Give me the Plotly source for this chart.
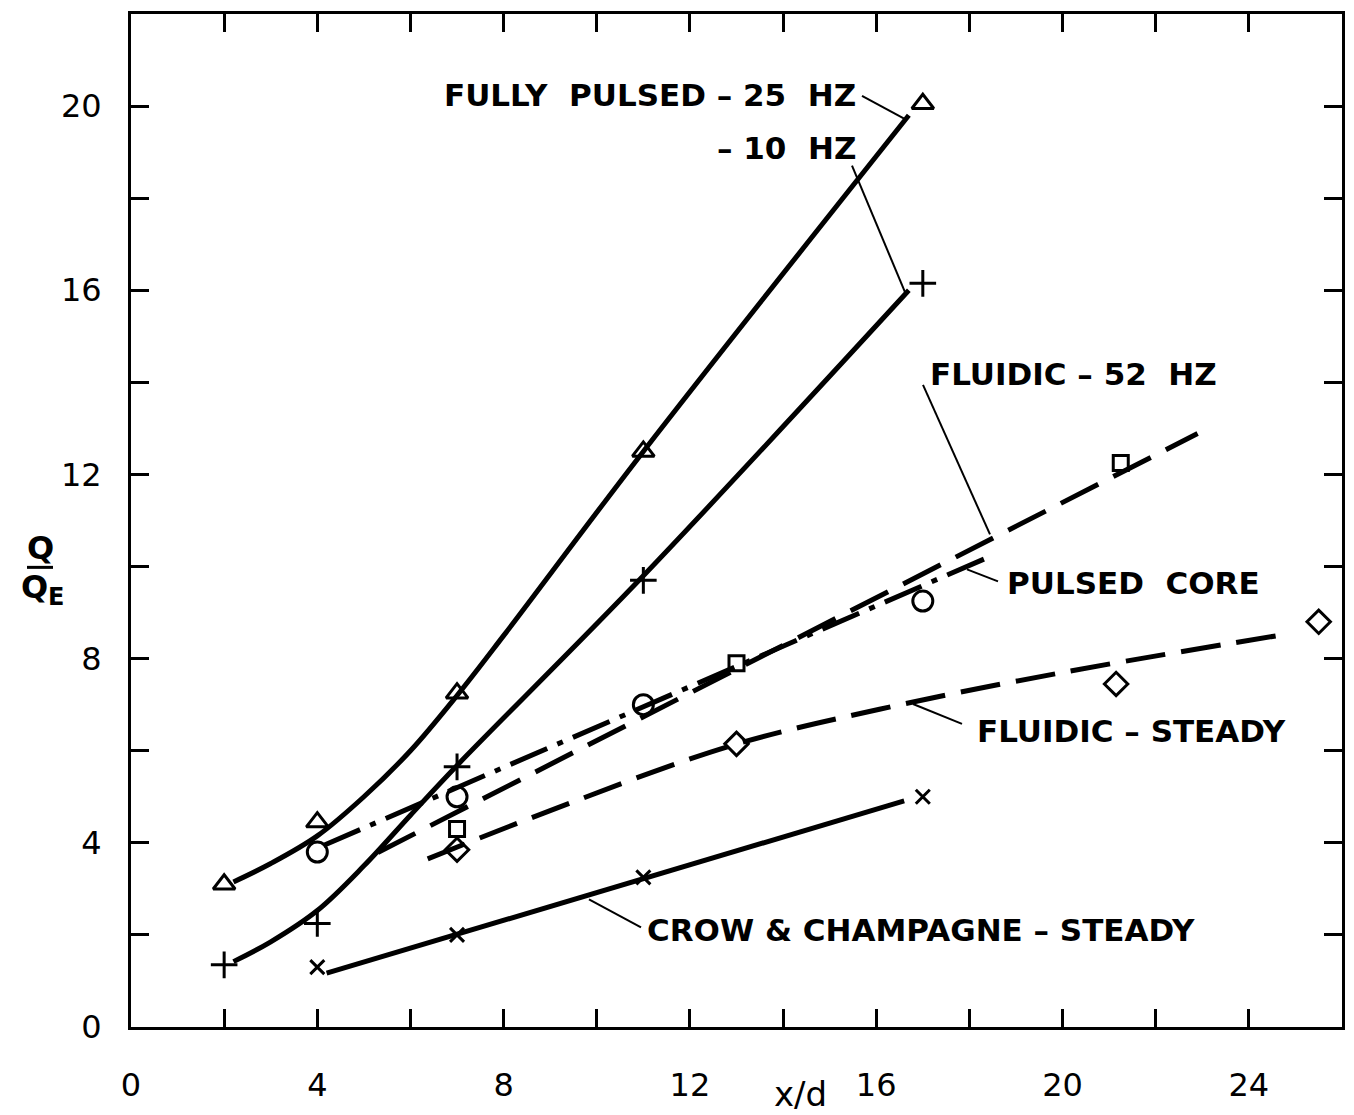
import plotly.graph_objects as go

# ---------------- data ----------------
# measured points
pulsed25_x = [2, 4, 7, 11, 17]
pulsed25_y = [3.1, 4.45, 7.25, 12.5, 20.05]
pulsed10_x = [2, 4, 7, 11, 17]
pulsed10_y = [1.35, 2.25, 5.65, 9.7, 16.15]
core_x = [4, 7, 11, 17]
core_y = [3.8, 5.0, 7.0, 9.25]
fl52_x = [7, 13, 21.25]
fl52_y = [4.3, 7.9, 12.25]
flst_x = [7, 13, 21.15, 25.5]
flst_y = [3.85, 6.15, 7.45, 8.8]
crow_x = [4, 7, 11, 17]
crow_y = [1.3, 2.0, 3.25, 5.0]

# faired curves
c25_x = [2.2, 3, 4, 5, 6, 7, 8, 11, 16.7]
c25_y = [3.15, 3.55, 4.15, 5.0, 6.0, 7.2, 8.5, 12.5, 19.8]
c10_x = [2.2, 3, 4, 5, 6, 7, 11, 16.7]
c10_y = [1.42, 1.85, 2.53, 3.5, 4.6, 5.68, 9.8, 16.0]
ccore_x = [4.13, 18.4]
ccore_y = [3.94, 10.2]
c52_x = [5.3, 22.9]
c52_y = [3.79, 12.89]
cst_x = [6.37, 9, 12.85, 16.07, 20, 24.92]
cst_y = [3.65, 4.7, 6.1, 6.9, 7.7, 8.55]
ccrow_x = [4.2, 16.6]
ccrow_y = [1.17, 4.91]

x_tick_vals = [0, 4, 8, 12, 16, 20, 24]
x_tick_text = ["0", "4", "8", "12", "16", "20", "24"]
y_tick_vals = [0, 4, 8, 12, 16, 20]
y_tick_text = ["0", "4", "8", "12", "16", "20"]

labels = ["FULLY  PULSED – 25  HZ", "– 10  HZ", "FLUIDIC – 52  HZ",
          "PULSED  CORE", "FLUIDIC – STEADY", "CROW & CHAMPAGNE – STEADY"]

# ---------------- layout geometry ----------------
OFF = 8                      # default page body margin
W, H = 1354 - OFF, 1115 - OFF
PL, PR, PT, PB = 131, 1342, 11, 1027   # plot box in page pixels
L, T = PL - OFF, PT - OFF
R = W - (PR - OFF)
B = H - (PB - OFF)
XMAX, YMAX = 26, 22
pw, ph = PR - PL, PB - PT


def px2x(px):
    return (px - PL) / (pw / XMAX)


def py2y(py):
    return (PB - py) / (ph / YMAX)


def px2p(px):
    return (px - PL) / pw


def py2p(py):
    return (PB - py) / ph


FONT = "DejaVu Sans"
fig = go.Figure()

LW = 5
curves = [
    (c25_x, c25_y, "solid", "spline"),
    (c10_x, c10_y, "solid", "spline"),
    (ccore_x, ccore_y, "40px,11px,6px,11px", "linear"),
    (c52_x, c52_y, "42px,17px", "linear"),
    (cst_x, cst_y, "40px,16px", "spline"),
    (ccrow_x, ccrow_y, "solid", "linear"),
]
for cx, cy, dash, shape in curves:
    fig.add_trace(go.Scatter(x=cx, y=cy, mode="lines",
                             line=dict(color="black", width=LW, dash=dash,
                                       shape=shape, smoothing=1.0),
                             showlegend=False, hoverinfo="skip"))

markers = [
    (pulsed25_x, pulsed25_y, "triangle-up-open", 19),
    (pulsed10_x, pulsed10_y, "cross-thin-open", 19),
    (core_x, core_y, "circle-open", 20),
    (fl52_x, fl52_y, "square-open", 15),
    (flst_x, flst_y, "diamond-open", 18),
    (crow_x, crow_y, "x-thin-open", 14),
]
for mx, my, sym, sz in markers:
    fig.add_trace(go.Scatter(x=mx, y=my, mode="markers",
                             marker=dict(symbol=sym, size=sz, color="black",
                                         line=dict(color="black", width=3)),
                             showlegend=False, cliponaxis=False))

# annotation texts (page-pixel anchored)
ann_specs = [
    (labels[0], 858, 92, "right"),
    (labels[1], 858, 145, "right"),
    (labels[2], 928, 372, "left"),
    (labels[3], 1005, 582, "left"),
    (labels[4], 975, 730, "left"),
    (labels[5], 645, 930, "left"),
]
annotations = []
for txt, px, py, anc in ann_specs:
    annotations.append(dict(x=px2x(px), y=py2y(py), xref="x", yref="y",
                            text="<b>" + txt + "</b>", showarrow=False,
                            xanchor=anc, yanchor="middle",
                            font=dict(family=FONT, size=31, color="black")))

# leader lines
leaders = [
    ((862, 93), (906, 117)),
    ((852, 163), (905, 290)),
    ((923, 383), (990, 533)),
    ((998, 580), (967, 568)),
    ((962, 723), (913, 703)),
    ((641, 927), (589, 899)),
]
shapes = []
for (ax_, ay_), (bx_, by_) in leaders:
    shapes.append(dict(type="line", xref="x", yref="y",
                       x0=px2x(ax_), y0=py2y(ay_), x1=px2x(bx_), y1=py2y(by_),
                       line=dict(color="black", width=2)))

# y-axis title Q / Q_E
annotations.append(dict(x=px2p(40), y=py2p(547), xref="paper", yref="paper",
                        text="<b>Q</b>", showarrow=False, xanchor="center",
                        yanchor="middle",
                        font=dict(family=FONT, size=32, color="black")))
annotations.append(dict(x=px2p(34), y=py2p(586), xref="paper", yref="paper",
                        text="<b>Q</b>", showarrow=False, xanchor="center",
                        yanchor="middle",
                        font=dict(family=FONT, size=32, color="black")))
annotations.append(dict(x=px2p(56), y=py2p(596), xref="paper", yref="paper",
                        text="<b>E</b>", showarrow=False, xanchor="center",
                        yanchor="middle",
                        font=dict(family=FONT, size=24, color="black")))
shapes.append(dict(type="line", xref="paper", yref="paper",
                   x0=px2p(27), x1=px2p(53), y0=py2p(566), y1=py2p(566),
                   line=dict(color="black", width=3)))
# x-axis title
annotations.append(dict(x=px2p(800), y=py2p(1094), xref="paper", yref="paper",
                        text="x/d", showarrow=False, xanchor="center",
                        yanchor="middle",
                        font=dict(family=FONT, size=34, color="black")))

axis_common = dict(showline=True, linecolor="black", linewidth=3,
                   mirror="ticks", ticks="inside", ticklen=18,
                   tickwidth=2.5, tickcolor="black", showgrid=False,
                   zeroline=False,
                   minor=dict(ticks="inside", ticklen=18, tickwidth=2.5,
                              tickcolor="black", dtick=2, showgrid=False),
                   tickfont=dict(family=FONT, size=32, color="black"))

fig.update_layout(
    width=W, height=H,
    margin=dict(l=L, r=R, t=T, b=B, pad=0),
    paper_bgcolor="white", plot_bgcolor="white",
    xaxis=dict(range=[0, XMAX], tickmode="array", tickvals=x_tick_vals,
               ticktext=x_tick_text, ticklabelstandoff=28, **axis_common),
    yaxis=dict(range=[0, YMAX], tickmode="array", tickvals=y_tick_vals,
               ticktext=y_tick_text, ticklabelstandoff=20, **axis_common),
    annotations=annotations,
    shapes=shapes,
)

fig.write_html("out.html")
